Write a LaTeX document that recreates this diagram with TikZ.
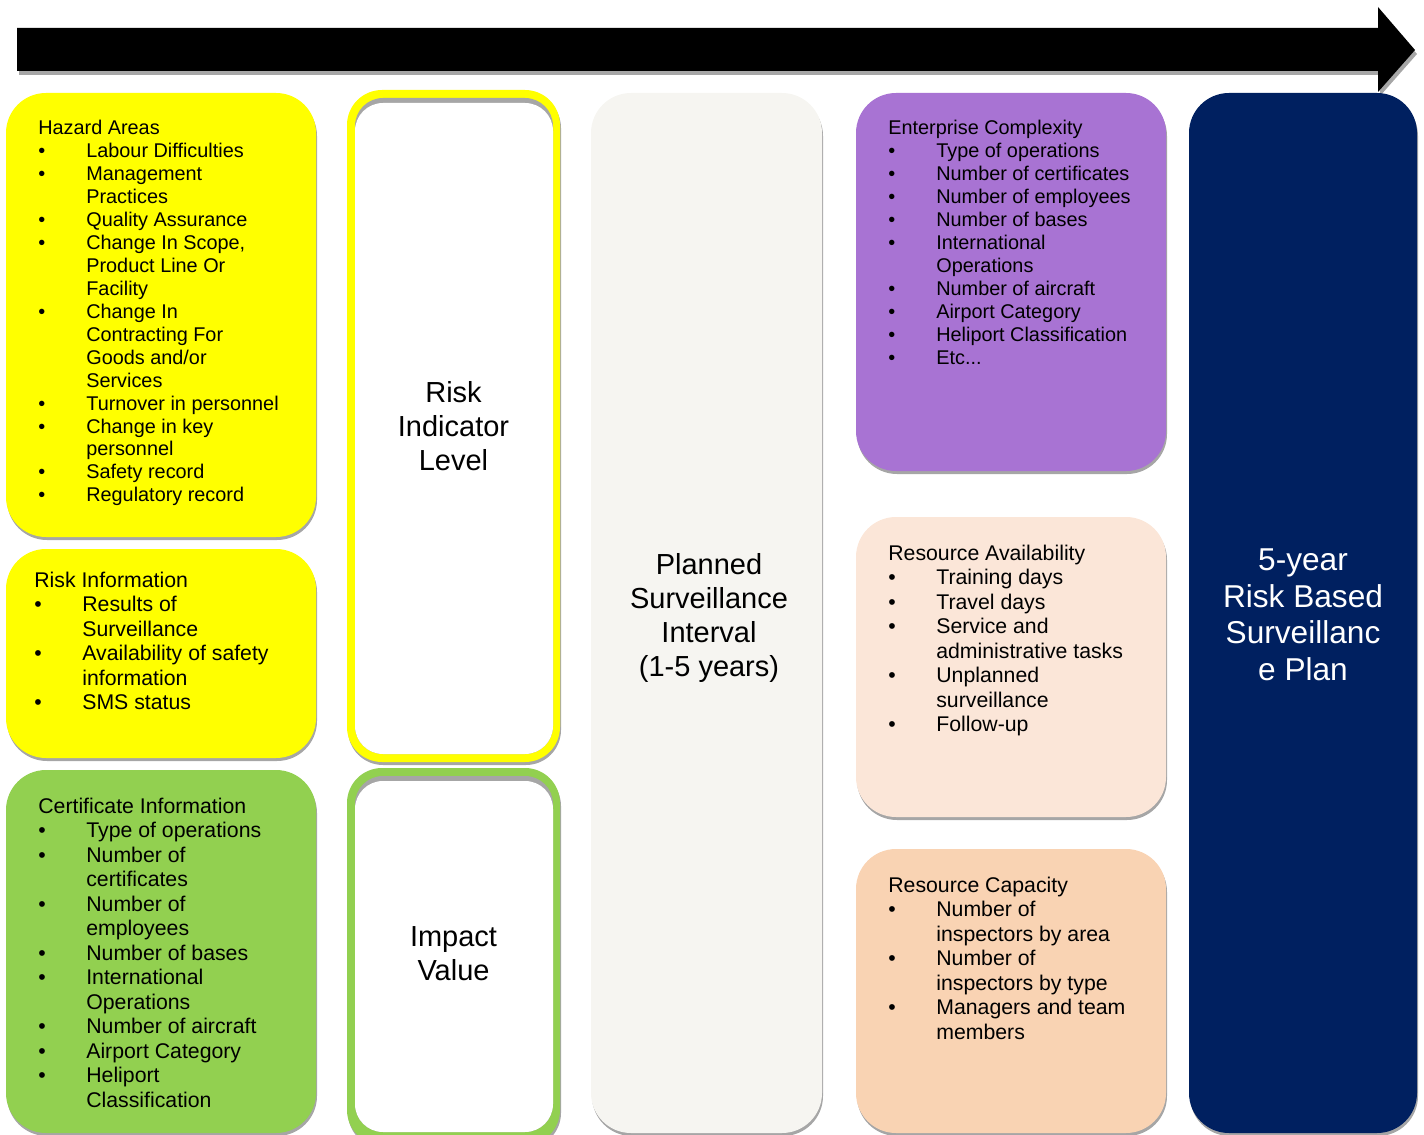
\documentclass[tikz,border=0pt]{standalone}
\usepackage{fontspec}
\setmainfont{Liberation Sans}

\definecolor{hazardyellow}{HTML}{FFFF00}
\definecolor{certgreen}{HTML}{92D050}
\definecolor{enterprisepurple}{HTML}{A873D3}
\definecolor{availpeach}{HTML}{FBE6D8}
\definecolor{capacitypeach}{HTML}{F9D3B3}
\definecolor{plannedgray}{HTML}{F6F5F1}
\definecolor{plannavy}{HTML}{002060}
\definecolor{shadowgray}{HTML}{A6A6A6}

% rounded box with a grey shadow below it
\newcommand\RoundBox[4]{% colour, corner radius, north west, south east
  \fill[shadowgray,rounded corners=#2,shift={(1,3)}] #3 rectangle #4;
  \fill[#1,rounded corners=#2] #3 rectangle #4;
}
% framed box: coloured rim, white inside with a shadow along its top
\newcommand\FrameBox[6]{% colour, outer nw, outer se, inner nw, inner se, white nw
  \RoundBox{#1}{0.7cm}{#2}{#3}
  \fill[shadowgray,rounded corners=0.56cm] #4 rectangle #5;
  \fill[white,rounded corners=0.56cm] #6 rectangle #5;
}
% title line followed by bullet items
\newcommand\ItemList[2]{%
  \begin{tabular}[t]{@{}p{0.96cm}@{}l@{}}
    \multicolumn{2}{@{}l@{}}{#1}\\
    #2
  \end{tabular}}

\tikzset{%
  smalllist/.style={anchor=base west,inner sep=0pt,
    font=\fontsize{11.3}{13.05}\selectfont},
  largelist/.style={anchor=base west,inner sep=0pt,
    font=\fontsize{12.1}{13.95}\selectfont},
  columntitle/.style={align=center,inner sep=0pt,
    font=\fontsize{16.5}{19.3}\selectfont},
  plantitle/.style={align=center,inner sep=0pt,text=white,
    font=\fontsize{18}{20.8}\selectfont}
}

\begin{document}
\begin{tikzpicture}[x=0.02cm,y=-0.02cm]

%% page frame (one unit is one pixel, y runs downwards)

\useasboundingbox (0,0) rectangle (1424,1135);
\clip (0,0) rectangle (1424,1135);

%% time arrow

\def\ArrowPath{(17,28) -- (1378,28) -- (1378,7) -- (1415,50) -- (1378,92)
  -- (1378,71) -- (17,71) -- cycle}
\fill[shadowgray,shift={(2,4)}] \ArrowPath;
\fill[black] \ArrowPath;

%% input boxes on the left

\RoundBox{hazardyellow}{0.8cm}{(6,93)}{(316,537)}
\RoundBox{hazardyellow}{0.8cm}{(6,549)}{(316,758)}
\RoundBox{certgreen}{0.8cm}{(6,770)}{(316,1133)}

%% indicator and impact columns

\FrameBox{hazardyellow}{(347,90)}{(560,762)}{(355,98)}{(553,754)}{(355,103)}
\FrameBox{certgreen}{(347,768)}{(560,1145)}{(355,776)}{(553,1132)}{(355,781)}

%% interval column

\RoundBox{plannedgray}{0.8cm}{(591,93)}{(822,1133)}

%% resource boxes

\RoundBox{enterprisepurple}{0.8cm}{(856,93)}{(1166,471)}
\RoundBox{availpeach}{0.8cm}{(856,517)}{(1166,817)}
\RoundBox{capacitypeach}{0.8cm}{(856,849)}{(1166,1133)}

%% plan column

\RoundBox{plannavy}{0.8cm}{(1189,93)}{(1417,1133)}

%% box texts

\node[smalllist] (hazard) at (38,135) {\ItemList{Hazard Areas}{%
  \textbullet & Labour Difficulties\\
  \textbullet & Management\\
              & Practices\\
  \textbullet & Quality Assurance\\
  \textbullet & Change In Scope,\\
              & Product Line Or\\
              & Facility\\
  \textbullet & Change In\\
              & Contracting For\\
              & Goods and/or\\
              & Services\\
  \textbullet & Turnover in personnel\\
  \textbullet & Change in key\\
              & personnel\\
  \textbullet & Safety record\\
  \textbullet & Regulatory record}};

\node[largelist] (riskinfo) at (34,587) {\ItemList{Risk Information}{%
  \textbullet & Results of\\
              & Surveillance\\
  \textbullet & Availability of safety\\
              & information\\
  \textbullet & SMS status}};

\node[largelist] (certinfo) at (38,813) {\ItemList{Certificate Information}{%
  \textbullet & Type of operations\\
  \textbullet & Number of\\
              & certificates\\
  \textbullet & Number of\\
              & employees\\
  \textbullet & Number of bases\\
  \textbullet & International\\
              & Operations\\
  \textbullet & Number of aircraft\\
  \textbullet & Airport Category\\
  \textbullet & Heliport\\
              & Classification}};

\node[columntitle] (indicator) at (453.5,426) {Risk\\Indicator\\Level};
\node[columntitle] (impact) at (453.5,954) {Impact\\Value};
\node[columntitle] (interval) at (709,618)
  {Planned\\Surveillance\\Interval\\(1-5 years)};

\node[smalllist] (enterprise) at (888,135) {\ItemList{Enterprise Complexity}{%
  \textbullet & Type of operations\\
  \textbullet & Number of certificates\\
  \textbullet & Number of employees\\
  \textbullet & Number of bases\\
  \textbullet & International\\
              & Operations\\
  \textbullet & Number of aircraft\\
  \textbullet & Airport Category\\
  \textbullet & Heliport Classification\\
  \textbullet & Etc...}};

\node[largelist] (availability) at (888,560) {\ItemList{Resource Availability}{%
  \textbullet & Training days\\
  \textbullet & Travel days\\
  \textbullet & Service and\\
              & administrative tasks\\
  \textbullet & Unplanned\\
              & surveillance\\
  \textbullet & Follow-up}};

\node[largelist] (capacity) at (888,892) {\ItemList{Resource Capacity}{%
  \textbullet & Number of\\
              & inspectors by area\\
  \textbullet & Number of\\
              & inspectors by type\\
  \textbullet & Managers and team\\
              & members}};

\node[plantitle] (plan) at (1303,615) {5-year\\Risk Based\\Surveillanc\\e Plan};
\end{tikzpicture}
\end{document}
